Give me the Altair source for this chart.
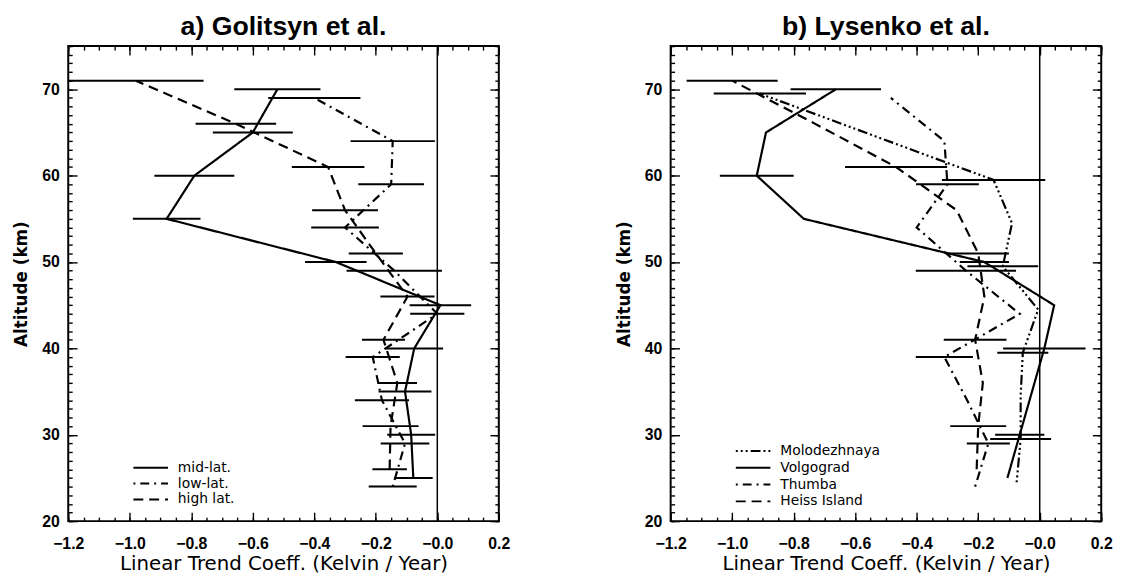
import altair as alt
import pandas as pd

FONT = "Liberation Sans"
WIDE = "DejaVu Sans"

# ---------------- panel a) Golitsyn et al. ----------------
a_series = ["mid-lat.", "low-lat.", "high lat."]
a_dashes = [[1, 0], [2, 5, 9, 5], [10, 6]]

a_mid_alt = [70, 65, 60, 55, 50, 45, 40, 35, 30, 25]
a_mid_val = [-0.52, -0.60, -0.79, -0.88, -0.33, 0.01, -0.075, -0.105, -0.085, -0.078]
a_mid_err = [0.14, 0.13, 0.13, 0.11, 0.10, 0.10, 0.094, 0.086, 0.078, 0.063]

a_low_alt = [69, 64, 59, 54, 49, 44, 39, 34, 29, 24]
a_low_val = [-0.40, -0.145, -0.15, -0.30, -0.14, 0.0, -0.21, -0.18, -0.105, -0.145]
a_low_err = [0.15, 0.137, 0.107, 0.11, 0.155, 0.088, 0.088, 0.088, 0.079, 0.078]

a_high_alt = [71, 66, 61, 56, 51, 46, 41, 36, 31, 26]
a_high_val = [-0.98, -0.655, -0.355, -0.30, -0.20, -0.097, -0.175, -0.13, -0.152, -0.155]
a_high_err = [0.22, 0.131, 0.118, 0.107, 0.088, 0.088, 0.07, 0.064, 0.091, 0.056]

# ---------------- panel b) Lysenko et al. ----------------
b_series = ["Molodezhnaya", "Volgograd", "Thumba", "Heiss Island"]
b_dashes = [[2, 3, 2, 3, 2, 3, 10, 3], [1, 0], [2, 5, 9, 5], [10, 6]]

b_molo_alt = [69.5, 59.5, 54.5, 49.5, 44.5, 39.5, 34.5, 29.5, 24.5]
b_molo_val = [-0.91, -0.15, -0.09, -0.12, -0.005, -0.055, -0.062, -0.062, -0.075]
b_molo_err = [0.15, 0.168, None, 0.115, None, 0.083, None, 0.099, None]

b_volg_alt = [70, 65, 60, 55, 50, 45, 40, 35, 30, 25]
b_volg_val = [-0.663, -0.89, -0.92, -0.767, -0.18, 0.047, 0.015, -0.025, -0.065, -0.105]
b_volg_err = [0.147, None, 0.12, None, 0.08, None, 0.134, None, 0.08, None]

b_thum_alt = [69, 64, 59, 54, 49, 44, 39, 34, 29, 24]
b_thum_val = [-0.484, -0.31, -0.30, -0.40, -0.24, -0.065, -0.31, -0.236, -0.167, -0.21]
b_thum_err = [None, None, 0.102, None, 0.163, None, 0.093, None, 0.07, None]

b_heis_alt = [71, 66, 61, 56, 51, 46, 41, 36, 31, 26]
b_heis_val = [-1.0, -0.73, -0.467, -0.27, -0.20, -0.18, -0.21, -0.185, -0.20, -0.205]
b_heis_err = [0.148, None, 0.166, None, 0.10, None, 0.102, None, 0.091, None]

# ---------------- axes ----------------
x_domain = [-1.2, 0.2]
y_domain = [20, 75]
x_major = [-1.2, -1.0, -0.8, -0.6, -0.4, -0.2, 0.0, 0.2]
x_minor = [round(-1.2 + 0.05 * i, 2) for i in range(29)]
y_major = [20, 30, 40, 50, 60, 70]
y_minor = list(range(20, 76))
zero_line = [0.0]

MAJ = 9
MIN = 4


def axis(orient, values, size, labels=False, title=None, **kw):
    return alt.Axis(orient=orient, values=values, tickSize=size, offset=-size,
                    domain=False, grid=False, tickColor="black", tickWidth=1.4,
                    labels=labels, title=title, **kw)


def panel(names, dashes, alts, vals, errs, field, title, lx, ly, rowpad):
    rows, brs = [], []
    for n, al, vl, el in zip(names, alts, vals, errs):
        for a, v, e in zip(al, vl, el):
            rows.append({field: n, "alt": a, "val": v})
            if e is not None:
                brs.append({field: n, "alt": a, "lo": v - e, "hi": v + e})
    lines = pd.DataFrame(rows)
    bars = pd.DataFrame(brs)
    zdf = pd.DataFrame({"z": zero_line})

    xs = alt.Scale(domain=x_domain, nice=False, zero=False)
    ys = alt.Scale(domain=y_domain, nice=False, zero=False)

    ax_xb = axis("bottom", x_major, MAJ, labels=True,
                 title="Linear Trend Coeff. (Kelvin / Year)",
                 labelExpr="datum.value == 0 ? '\u22120.0' : format(datum.value, '.1f')",
                 labelFont=FONT, labelFontSize=16, labelFontWeight="bold",
                 labelColor="black", labelPadding=15, labelFlush=False,
                 labelOverlap=False, titleFont=WIDE, titleFontSize=20,
                 titleFontWeight="normal", titleColor="black", titlePadding=2)
    ax_yl = axis("left", y_major, MAJ, labels=True, title="Altitude (km)",
                 labelFont=FONT, labelFontSize=16, labelFontWeight="bold",
                 labelColor="black", labelPadding=9, labelFlush=False,
                 labelOverlap=False, titleFont=WIDE, titleFontSize=17,
                 titleFontWeight="bold", titleColor="black", titlePadding=11)

    bar_layer = alt.Chart(bars).mark_rule(color="black", strokeWidth=2, clip=True).encode(
        x=alt.X("lo:Q", scale=xs, axis=ax_xb),
        x2="hi:Q",
        y=alt.Y("alt:Q", scale=ys, axis=ax_yl),
    )
    line_layer = alt.Chart(lines).mark_line(color="black", strokeWidth=2.2, clip=True).encode(
        x=alt.X("val:Q", scale=xs, axis=axis("bottom", x_minor, MIN)),
        y=alt.Y("alt:Q", scale=ys, axis=axis("left", y_minor, MIN)),
        strokeDash=alt.StrokeDash(
            f"{field}:N",
            scale=alt.Scale(domain=names, range=dashes),
            legend=alt.Legend(title=None, orient="none", legendX=lx, legendY=ly,
                              symbolType="stroke", symbolSize=1225,
                              symbolStrokeWidth=2, symbolStrokeColor="black",
                              labelFont=WIDE, labelFontSize=14, labelColor="black",
                              labelOffset=9, rowPadding=rowpad, clipHeight=16),
        ),
        order="alt:Q",
    )
    top_major = alt.Chart(lines).mark_point(opacity=0).encode(
        x=alt.X("val:Q", scale=xs, axis=axis("top", x_major, MAJ)),
        y=alt.Y("alt:Q", scale=ys, axis=axis("right", y_major, MAJ)),
    )
    top_minor = alt.Chart(lines).mark_point(opacity=0).encode(
        x=alt.X("val:Q", scale=xs, axis=axis("top", x_minor, MIN)),
        y=alt.Y("alt:Q", scale=ys, axis=axis("right", y_minor, MIN)),
    )
    zero_layer = alt.Chart(zdf).mark_rule(color="black", strokeWidth=1.5).encode(
        x=alt.X("z:Q", scale=xs, axis=None)
    )
    return alt.layer(bar_layer, line_layer, top_major, top_minor, zero_layer).resolve_axis(
        x="independent", y="independent"
    ).properties(
        width=436, height=481,
        title=alt.TitleParams(title, font=FONT, fontSize=27, fontWeight="bold",
                              color="black", anchor="middle", offset=1, dy=-4),
    )


left = panel(a_series, a_dashes,
             [a_mid_alt, a_low_alt, a_high_alt],
             [a_mid_val, a_low_val, a_high_val],
             [a_mid_err, a_low_err, a_high_err],
             "lat", "a)  Golitsyn et al.", 65, 419, 0)
right = panel(b_series, b_dashes,
              [b_molo_alt, b_volg_alt, b_thum_alt, b_heis_alt],
              [b_molo_val, b_volg_val, b_thum_val, b_heis_val],
              [b_molo_err, b_volg_err, b_thum_err, b_heis_err],
              "station", "b)  Lysenko et al.", 65, 402, 1)

chart = alt.hconcat(left, right, spacing=104).resolve_scale(
    strokeDash="independent"
).properties(
    background="white",
    padding={"left": 4, "top": 0, "right": 5, "bottom": 0},
).configure_view(stroke="black", strokeWidth=2)

chart.save("out.html", embed_options={"renderer": "svg", "actions": False})
